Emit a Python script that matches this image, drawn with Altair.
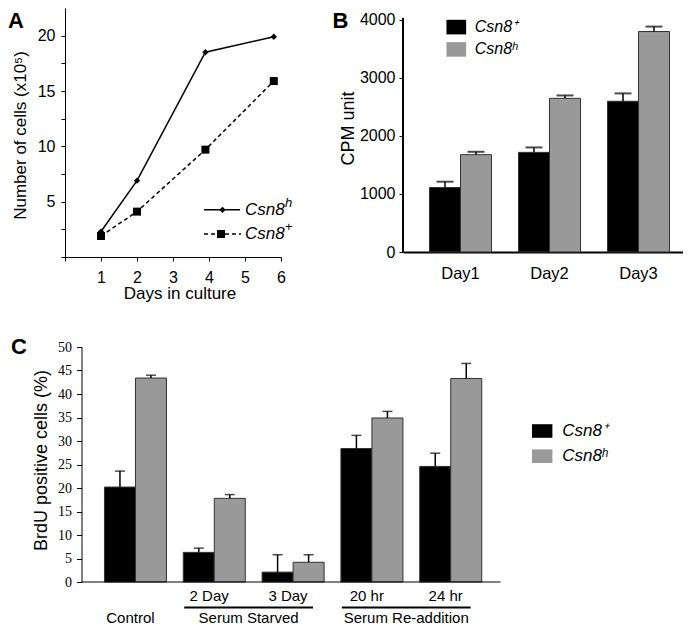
import altair as alt
import pandas as pd

FONT = "Liberation Sans"
SERIF = "Liberation Serif"
BLACK = "#000000"
GREY = "#999999"
EDGE = "#333333"

panel_letters = ["A", "B", "C"]
series_base = "Csn8"
series_sup = ["+", "h"]
series_labels = ["Csn8⁺", "Csn8ʰ"]

# ---- Panel A: growth curve ----
a_days = [1, 2, 3.9, 5.8]
a_csn8h = [2.3, 6.9, 18.5, 19.9]
a_csn8p = [1.9, 4.1, 9.7, 15.9]
a_xticks = [0, 1, 2, 3, 4, 5, 6]
a_yticks = [0, 2.5, 5, 7.5, 10, 12.5, 15, 17.5, 20]

# ---- Panel B: CPM ----
b_days = ["Day1", "Day2", "Day3"]
b_plus = [1110, 1715, 2595]
b_plus_err = [100, 85, 135]
b_h = [1675, 2645, 3795]
b_h_err = [50, 50, 85]
b_yticks = [0, 1000, 2000, 3000, 4000]

# ---- Panel C: BrdU ----
c_groups = ["Control", "2 Day", "3 Day", "20 hr", "24 hr"]
c_plus = [20.2, 6.3, 2.1, 28.4, 24.6]
c_plus_err = [3.4, 0.9, 3.7, 2.8, 2.8]
c_h = [43.4, 17.8, 4.2, 34.9, 43.3]
c_h_err = [0.6, 0.8, 1.6, 1.4, 3.2]
c_yticks = [0, 5, 10, 15, 20, 25, 30, 35, 40, 45, 50]
c_super_labels = ["Control", "Serum Starved", "Serum Re-addition"]
c_super_start = ["Control", "2 Day", "20 hr"]
c_super_end = ["Control", "3 Day", "24 hr"]

# ---- layout sizes ----
A_W, A_H = 216, 249
B_W, B_H = 280, 244
C_SHIFT = 16.5          # C's axis sits this far right of A's axis
C_W, C_H = 419, 235
HSP = 122
VSP = 34

one = pd.DataFrame({"k": [0]})


def letter(txt, x, y):
    return alt.Chart(one).mark_text(font=FONT, fontWeight="bold", fontSize=22, align="left",
                                    baseline="top", color="black").encode(
        x=alt.value(x), y=alt.value(y), text=alt.value(txt))


# ================= Panel A =================
dfA_h = pd.DataFrame({"day": a_days, "cells": a_csn8h})
dfA_p = pd.DataFrame({"day": a_days, "cells": a_csn8p})

xA = alt.X("day:Q", scale=alt.Scale(domain=[0, 6], nice=False, zero=False),
           axis=alt.Axis(values=a_xticks, labelExpr="datum.value == 0 ? '' : datum.label",
                         title="Days in culture", titleFontSize=17, titleX=114.5, titleY=36.6,
                         titleBaseline="middle", titleAlign="center",
                         tickSize=4, labelPadding=8, labelFontSize=16,
                         labelFlush=False, labelOverlap=False))
yA = alt.Y("cells:Q", scale=alt.Scale(domain=[0, 22.5], nice=False),
           axis=alt.Axis(values=a_yticks,
                         labelExpr="datum.value % 5 == 0 && datum.value > 0 ? datum.label : ''",
                         title="Number of cells (x10⁵)", titleFontSize=17, titleAngle=-90,
                         titleX=-45, titleY=127, titleBaseline="middle", titleAlign="center",
                         tickSize=4, labelPadding=6, labelFontSize=16,
                         labelFlush=False, labelOverlap=False))

line_h = alt.Chart(dfA_h).mark_line(color="black", strokeWidth=1.5).encode(x=xA, y=yA)
pts_h = alt.Chart(dfA_h).mark_point(shape="diamond", filled=True, color="black", opacity=1,
                                    size=40).encode(x=xA, y=yA)
line_p = alt.Chart(dfA_p).mark_line(color="black", strokeWidth=1.5, strokeDash=[4, 3]).encode(x=xA, y=yA)
pts_p = alt.Chart(dfA_p).mark_point(shape="square", filled=True, color="black", opacity=1,
                                    size=64).encode(x=xA, y=yA)

# manual legend for A
LY1, LY2 = 201.8, 226
legA = [
    alt.Chart(one).mark_rule(color="black", strokeWidth=1.5).encode(
        x=alt.value(139), x2=alt.value(175), y=alt.value(LY1)),
    alt.Chart(one).mark_point(shape="diamond", filled=True, color="black", opacity=1, size=40).encode(
        x=alt.value(157.5), y=alt.value(LY1)),
    alt.Chart(one).mark_rule(color="black", strokeWidth=1.5, strokeDash=[4, 3]).encode(
        x=alt.value(139), x2=alt.value(176), y=alt.value(LY2)),
    alt.Chart(one).mark_point(shape="square", filled=True, color="black", opacity=1, size=64).encode(
        x=alt.value(156), y=alt.value(LY2)),
    alt.Chart(one).mark_text(font=FONT, fontStyle="italic", fontSize=17, align="left",
                             baseline="middle", color="black").encode(
        x=alt.value(180), y=alt.value(LY1), text=alt.value(series_base)),
    alt.Chart(one).mark_text(font=FONT, fontStyle="italic", fontSize=13, align="left",
                             baseline="middle", color="black").encode(
        x=alt.value(220), y=alt.value(LY1 - 7), text=alt.value(series_sup[1])),
    alt.Chart(one).mark_text(font=FONT, fontStyle="italic", fontSize=17, align="left",
                             baseline="middle", color="black").encode(
        x=alt.value(180), y=alt.value(LY2), text=alt.value(series_base)),
    alt.Chart(one).mark_text(font=FONT, fontSize=13, align="left",
                             baseline="middle", color="black").encode(
        x=alt.value(220), y=alt.value(LY2 - 7), text=alt.value(series_sup[0])),
]

chartA = alt.layer(line_h, line_p, pts_h, pts_p, *legA, letter(panel_letters[0], -57, 3)).properties(
    width=A_W, height=A_H)

# ================= Panel B =================
dfB = pd.DataFrame({
    "day": b_days + b_days,
    "series": [series_labels[0]] * len(b_days) + [series_labels[1]] * len(b_days),
    "value": b_plus + b_h,
    "err": b_plus_err + b_h_err,
})
dfB["top"] = dfB["value"] + dfB["err"]

xB = alt.X("day:N", sort=b_days,
           scale=alt.Scale(paddingInner=0, paddingOuter=0.073, align=1),
           axis=alt.Axis(title=None, ticks=False, tickSize=0, labelPadding=13, labelFontSize=16.5,
                         labelAngle=0, domainWidth=2))
xoB = alt.XOffset("series:N", sort=series_labels, scale=alt.Scale(paddingInner=0, paddingOuter=0.435))
yB_axis = alt.Axis(values=b_yticks, format="d", domain=False, title="CPM unit", titleFontSize=18,
                   titleAngle=-90, titleX=-55, titleY=120, titleBaseline="middle", titleAlign="center",
                   tickSize=4, labelPadding=4, labelFontSize=16, labelOverlap=False)
yB_scale = alt.Scale(domain=[0, 4200], nice=False)
colB = alt.Color("series:N", scale=alt.Scale(domain=series_labels, range=[BLACK, GREY]),
                 legend=alt.Legend(title=None, orient="none", legendX=45.3, legendY=11.1, padding=0,
                                   symbolType="M-1.35,-1H1.35V1H-1.35Z", symbolSize=213,
                                   symbolStrokeWidth=0, symbolOpacity=1,
                                   labelFont=FONT, labelFontSize=16, labelFontStyle="italic",
                                   labelColor="black", labelOffset=10.5, rowPadding=6.3))

barsB = alt.Chart(dfB).mark_bar(stroke=EDGE, strokeWidth=1).encode(
    x=xB, xOffset=xoB, y=alt.Y("value:Q", scale=yB_scale, axis=yB_axis), color=colB)
errB = alt.Chart(dfB).mark_rule(color="black", strokeWidth=1.5).encode(
    x=xB, xOffset=xoB, y=alt.Y("value:Q", scale=yB_scale, axis=yB_axis), y2="top:Q")
capB = alt.Chart(dfB).mark_tick(color="black", thickness=2, size=17).encode(
    x=xB, xOffset=xoB, y=alt.Y("top:Q", scale=yB_scale, axis=yB_axis))
axisLineB = alt.Chart(one).mark_rule(color="black", strokeWidth=2).encode(
    x=alt.value(0), y=alt.Y(datum=0, scale=yB_scale, axis=yB_axis), y2=alt.datum(4030))

chartB = alt.layer(barsB, errB, capB, axisLineB, letter(panel_letters[1], -70.6, 3)).properties(
    width=B_W, height=B_H)

# ================= Panel C =================
dfC = pd.DataFrame({
    "group": c_groups + c_groups,
    "series": [series_labels[0]] * len(c_groups) + [series_labels[1]] * len(c_groups),
    "value": c_plus + c_h,
    "err": c_plus_err + c_h_err,
})
dfC["top"] = dfC["value"] + dfC["err"]

C_TOT = C_SHIFT + C_W
C_STEP = C_W / (len(c_groups) + 2 * 0.158)
xC = alt.X("group:N", sort=c_groups,
           scale=alt.Scale(paddingInner=0, paddingOuter=0.158, align=0.38, range=[C_SHIFT, C_TOT]),
           axis=alt.Axis(title=None, ticks=False, tickSize=0, labelPadding=6.5, labelFontSize=15,
                         domain=False, labelAngle=0,
                         labelExpr="datum.value == 'Control' ? '' : datum.label"))
xoC = alt.XOffset("series:N", sort=series_labels, scale=alt.Scale(paddingInner=0, paddingOuter=0.389))
yC_axis = alt.Axis(values=c_yticks, labelFont=SERIF, labelFontSize=14, tickSize=5, labelPadding=5,
                   offset=-C_SHIFT,
                   title="BrdU positive cells (%)", titleFontSize=18, titleAngle=-90,
                   titleX=-40, titleY=113, titleBaseline="middle", titleAlign="center",
                   labelOverlap=False)
yC_scale = alt.Scale(domain=[0, 50], nice=False)
colC = alt.Color("series:N", scale=alt.Scale(domain=series_labels, range=[BLACK, GREY]),
                 legend=alt.Legend(title=None, orient="none", legendX=452.2 + C_SHIFT, legendY=75.5,
                                   padding=0, symbolType="M-1.5,-1H1.5V1H-1.5Z", symbolSize=185,
                                   symbolStrokeWidth=0, symbolOpacity=1,
                                   labelFont=FONT, labelFontSize=17, labelFontStyle="italic",
                                   labelColor="black", labelOffset=11.5, rowPadding=7.2))

barsC = alt.Chart(dfC).mark_bar(stroke=EDGE, strokeWidth=1).encode(
    x=xC, xOffset=xoC, y=alt.Y("value:Q", scale=yC_scale, axis=yC_axis), color=colC)
errC = alt.Chart(dfC).mark_rule(color="black", strokeWidth=1.5).encode(
    x=xC, xOffset=xoC, y=alt.Y("value:Q", scale=yC_scale, axis=yC_axis), y2="top:Q")
capC = alt.Chart(dfC).mark_tick(color="black", thickness=1.5, size=10).encode(
    x=xC, xOffset=xoC, y=alt.Y("top:Q", scale=yC_scale, axis=yC_axis))
axisLineC = alt.Chart(one).mark_rule(color="black", strokeWidth=1).encode(
    x=alt.value(C_SHIFT), x2=alt.value(C_TOT), y=alt.value(C_H))

dfSup = pd.DataFrame({"group": c_super_start, "end": c_super_end, "label": c_super_labels})
supSingle = alt.Chart(dfSup).transform_filter("datum.group == datum.end").mark_text(
    font=FONT, fontSize=15, baseline="middle", align="center", color="black").encode(
    x=xC, y=alt.value(C_H + 36), text="label:N")
supSpan = alt.Chart(dfSup).transform_filter("datum.group != datum.end").mark_text(
    font=FONT, fontSize=15, baseline="middle", align="center", color="black", dx=C_STEP / 2).encode(
    x=xC, y=alt.value(C_H + 36), text="label:N")
supLine = alt.Chart(dfSup).transform_filter("datum.group != datum.end").mark_rule(
    color="black", strokeWidth=2, xOffset=-25, x2Offset=25).encode(
    x=xC, x2="end:N", y=alt.value(C_H + 25.5))

chartC = alt.layer(barsC, errC, capC, axisLineC, supSingle, supSpan, supLine,
                   letter(panel_letters[2], -54, -10)).properties(width=C_TOT, height=C_H)

# ================= compose =================
top = alt.hconcat(chartA, chartB, spacing=HSP, bounds="flush").resolve_scale(color="independent")
chart = alt.vconcat(top, chartC, spacing=VSP).resolve_scale(color="independent").properties(
    padding=0
).configure_view(stroke=None).configure_axis(
    grid=False, domainColor="black", tickColor="black", labelColor="black", titleColor="black",
    titleFontWeight="normal", labelFont=FONT, titleFont=FONT, domainWidth=1, tickWidth=1
)

chart.save("out.html", embed_options={"renderer": "svg", "actions": False})
